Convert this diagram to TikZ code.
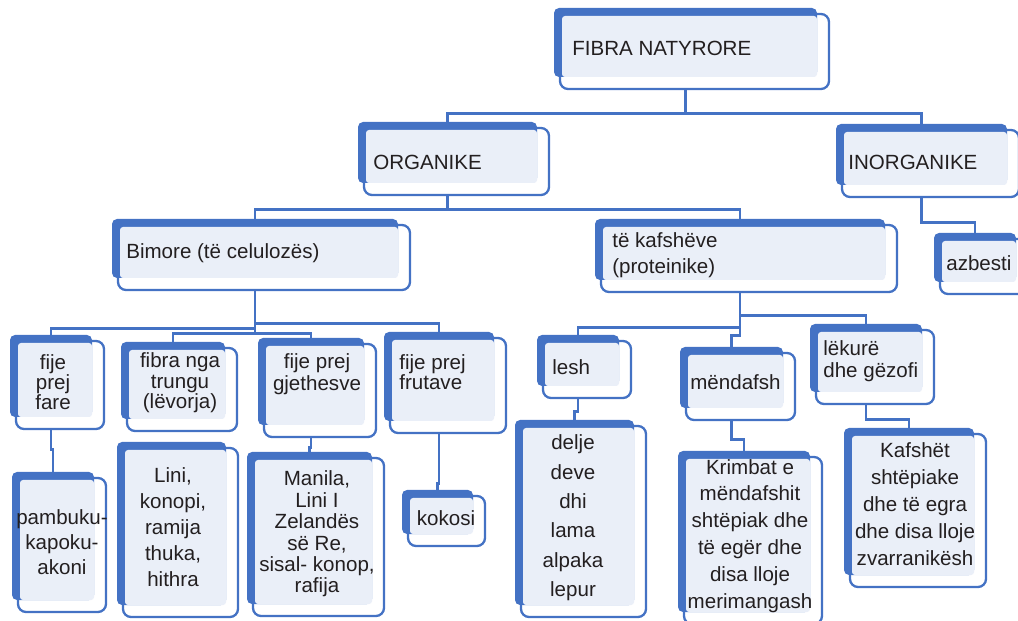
\documentclass[tikz,border=0pt]{standalone}
\usepackage{fontspec}
\setmainfont{Liberation Sans}
\usetikzlibrary{calc, fit}

\definecolor{boxblue}{HTML}{4472C4}
\definecolor{lightfill}{HTML}{EAEFF8}
\definecolor{textgray}{HTML}{231F20}

\tikzset{
  frontbox/.style={draw=boxblue, line width=1.3pt, fill=white, rounded corners=0.16cm},
  backbox/.style={fill=boxblue, rounded corners=0.1cm},
  lightbox/.style={fill=lightfill, rounded corners=0.06cm},
  hook/.style={inner sep=0pt, draw=none},
  link/.style={draw=boxblue, line width=1.4pt},
  lbl/.style={font=\fontsize{11.7}{#1}\selectfont, inner sep=0pt, text=textgray},
  lbl/.default=14
}

% box with dark tab behind it: name, back north west, back south east
\newcommand{\fibrabox}[3]{%
  \draw[frontbox] ($(#2)+(6,6)$) rectangle ($(#3)+(12,12)$);
  \fill[backbox] (#2) rectangle (#3);
  \fill[lightbox] ($(#2)+(8,8)$) rectangle (#3);
  \node[hook, fit={(#2) ($(#3)+(0,12)$)}] (#1) {};
}

\begin{document}
\begin{tikzpicture}[x=0.02cm, y=-0.02cm]
	\useasboundingbox (0,0) rectangle (1018,621);
	% boxes
	\fibrabox{fibra}{554,8}{817,77}
	\fibrabox{organike}{358,122}{537,183}
	\fibrabox{inorganike}{836,124}{1007,185}
	\fibrabox{bimore}{112,219}{398,278}
	\fibrabox{kafshe}{595,219}{885,280}
	\fibrabox{azbesti}{934,233}{1016,282}
	\fibrabox{fare}{10,335}{92,417}
	\fibrabox{trungu}{121,342}{225,419}
	\fibrabox{gjethesve}{258,338}{364,425}
	\fibrabox{frutave}{384,332}{494,421}
	\fibrabox{lesh}{537,335}{619,386}
	\fibrabox{mendafsh}{680,347}{783,408}
	\fibrabox{lekure}{810,324}{922,392}
	\fibrabox{pambuku}{12,472}{94,600}
	\fibrabox{lini}{117,442}{226,605}
	\fibrabox{manila}{247,452}{372,604}
	\fibrabox{kokosi}{402,490}{473,534}
	\fibrabox{delje}{515,420}{634,605}
	\fibrabox{krimbat}{678,451}{810,612}
	\fibrabox{kafshet}{844,428}{974,575}

	% texts
	\node[lbl, anchor=west] (fibra-t) at (572,48) {FIBRA NATYRORE};
	\node[lbl, anchor=west] (organike-t) at (373,162) {ORGANIKE};
	\node[lbl, anchor=west] (inorganike-t) at (848,162) {INORGANIKE};
	\node[lbl, anchor=west] (bimore-t) at (126,253) {Bimore (të celulozës)};
	\node[lbl=14.7, anchor=west, align=left] (kafshe-t) at (612,255) {të kafshëve\\(proteinike)};
	\node[lbl, anchor=west] (azbesti-t) at (946,263) {azbesti};
	\node[lbl=11.3, align=center] (fare-t) at (53,382) {fije\\prej\\fare};
	\node[lbl=11.6, align=center] (trungu-t) at (180,383) {fibra nga\\trungu\\(lëvorja)};
	\node[lbl=12.5, align=center] (gjethesve-t) at (317,374) {fije prej\\gjethesve};
	\node[lbl=11.3, anchor=west, align=left] (frutave-t) at (399,372) {fije prej\\frutave};
	\node[lbl, anchor=west] (lesh-t) at (552,367) {lesh};
	\node[lbl, anchor=west] (mendafsh-t) at (690,382) {mëndafsh};
	\node[lbl=12.5, anchor=west, align=left] (lekure-t) at (823,361) {lëkurë\\dhe gëzofi};
	\node[lbl=14.2, align=center] (pambuku-t) at (62,542) {pambuku-\\kapoku-\\akoni};
	\node[lbl=14.7, align=center] (lini-t) at (173,527) {Lini,\\konopi,\\ramija\\thuka,\\hithra};
	\node[lbl=12.2, align=center] (manila-t) at (317,534) {Manila,\\Lini I\\Zelandës\\së Re,\\sisal- konop,\\rafija};
	\node[lbl] (kokosi-t) at (446,518) {kokosi};
	\node[lbl=16.7, align=center] (delje-t) at (573,518) {delje\\deve\\dhi\\lama\\alpaka\\lepur};
	\node[lbl=15.3, align=center] (krimbat-t) at (750,536) {Krimbat e\\mëndafshit\\shtëpiak dhe\\të egër dhe\\disa lloje\\merimangash};
	\node[lbl=15.3, align=center] (kafshet-t) at (915,504) {Kafshët\\shtëpiake\\dhe të egra\\dhe disa lloje\\zvarranikësh};

	% connectors
	\draw[link] (fibra.south) -- ++(0,24) -| (organike.north);
	\draw[link] (fibra.south) -- ++(0,24) -| (inorganike.north);
	\draw[link] (organike.south) -- ++(0,14) -| (bimore.north);
	\draw[link] (organike.south) -- ++(0,14) -| (kafshe.north);
	\draw[link] (inorganike.south) -- ++(0,25) -| (azbesti.north);
	\draw[link] (bimore.south) -- ++(0,33) -| (frutave.north);
	\draw[link] (bimore.south) -- ++(0,38) -| (fare.north);
	\draw[link] (bimore.south) -- ++(0,43) -| (trungu.north);
	\draw[link] (bimore.south) -- ++(0,43) -| (gjethesve.north);
	\draw[link] (kafshe.south) -- ++(0,23) -| (lekure.north);
	\draw[link] (kafshe.south) -- ++(0,35) -| (lesh.north);
	\draw[link] (kafshe.south) -- ++(0,43) -| (mendafsh.north);
	\draw[link] (fare.south) -- ++(0,20) -| (pambuku.north);
	\draw[link] (gjethesve.south) -- ++(0,10) -| (manila.north);
	\draw[link] (frutave.south) -- ++(0,50) -| (kokosi.north);
	\draw[link] (lesh.south) -- ++(0,13) -| (delje.north);
	\draw[link] (mendafsh.south) -- ++(0,19) -| (krimbat.north);
	\draw[link] (lekure.south) -- ++(0,15) -| (kafshet.north);
\end{tikzpicture}
\end{document}
